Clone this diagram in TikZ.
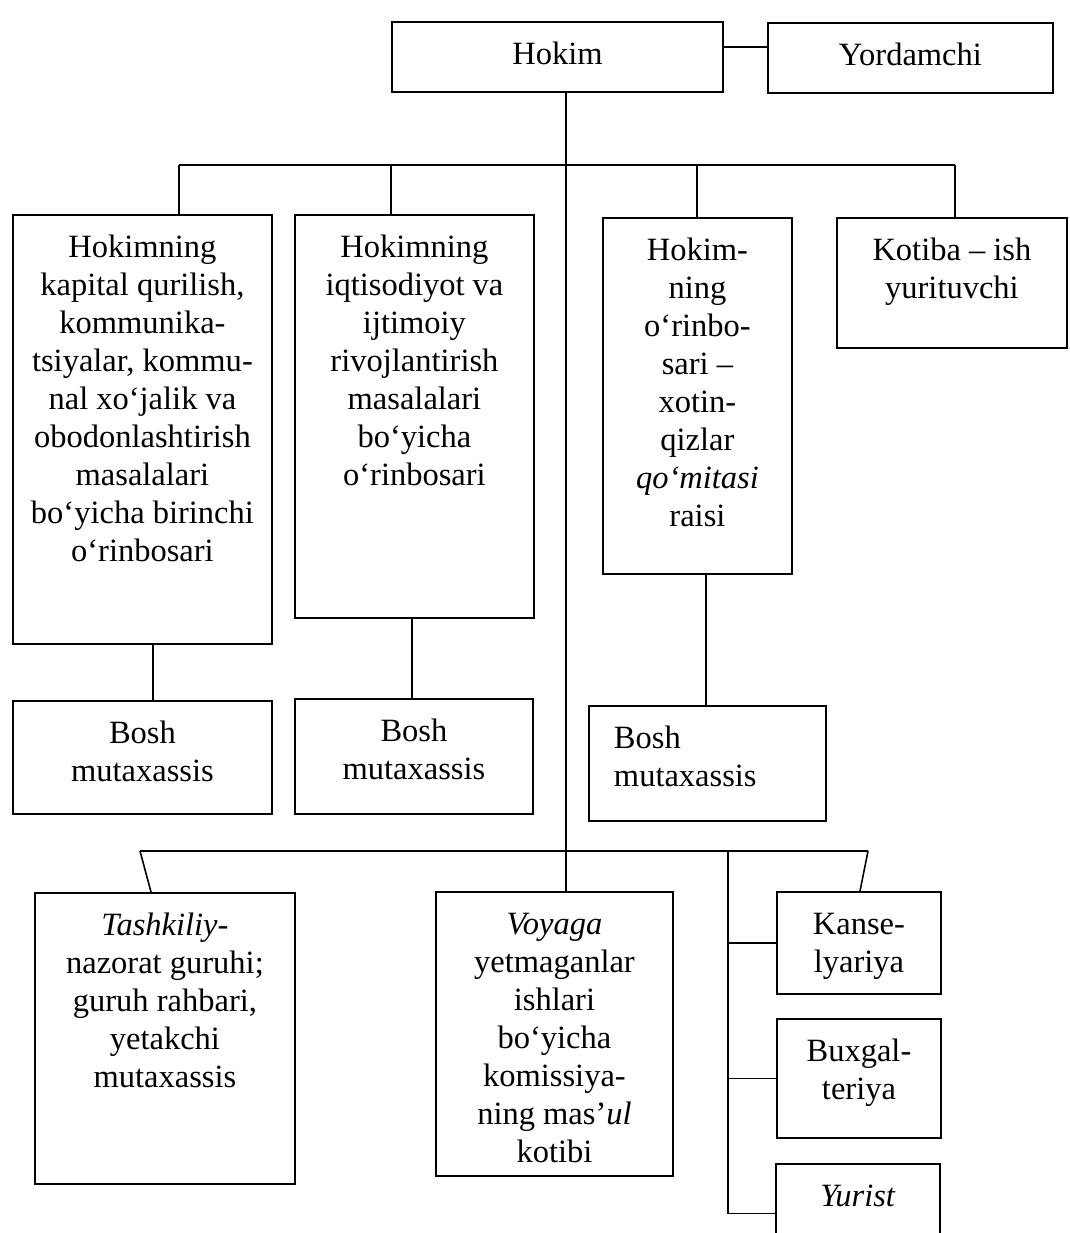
\documentclass[tikz,border=0pt]{standalone}
\usepackage{fontspec}
\setmainfont{Liberation Serif}
\newcommand{\unitbox}[4][\centering]{\parbox[t][#3][t]{#2}{#1\rule{0pt}{0.86cm}#4}}
\tikzset{
  unit/.style={draw, line width=1.1pt, inner sep=0pt, anchor=north west},
  link/.style={line width=0.9pt},
}

\begin{document}
\begin{tikzpicture}[x=0.02cm, y=-0.02cm, font=\fontsize{18.5}{21.6}\selectfont]
\useasboundingbox (0,0) rectangle (1069,1233);
% top row
\node[unit] (hokim) at (391,21) {\unitbox{6.62cm}{1.4cm}{Hokim}};
\node[unit] (yordam) at (767,22) {\unitbox{5.7cm}{1.4cm}{Yordamchi}};
% deputies
\node[unit] (hm1) at (12,214) {\unitbox{5.18cm}{8.58cm}{Hokimning\\kapital qurilish,\\kommunika-\\tsiyalar, kommu-\\nal xo‘jalik va\\obodonlashtirish\\masalalari\\bo‘yicha birinchi\\o‘rinbosari}};
\node[unit] (hm2) at (294,214) {\unitbox{4.78cm}{8.06cm}{Hokimning\\iqtisodiyot va\\ijtimoiy\\rivojlantirish\\masalalari\\bo‘yicha\\o‘rinbosari}};
\node[unit] (hm3) at (602,217) {\unitbox{3.78cm}{7.12cm}{Hokim-\\ning\\o‘rinbo-\\sari –\\xotin-\\qizlar\\\textit{qo‘mitasi}\\raisi}};
\node[unit] (kotiba) at (836,217) {\unitbox{4.6cm}{2.6cm}{Kotiba – ish\\yurituvchi}};
% specialists
\node[unit] (bosh1) at (12,700) {\unitbox{5.18cm}{2.26cm}{Bosh\\mutaxassis}};
\node[unit] (bosh2) at (294,698) {\unitbox{4.76cm}{2.3cm}{Bosh\\mutaxassis}};
\node[unit] (bosh3) at (588,705) {\unitbox[\raggedright\leftskip=0.5cm]{4.74cm}{2.3cm}{Bosh\\mutaxassis}};
% bottom row
\node[unit] (tash) at (34,892) {\unitbox{5.2cm}{5.82cm}{\textit{Tashkiliy}-\\nazorat guruhi;\\guruh rahbari,\\yetakchi\\mutaxassis}};
\node[unit] (voyaga) at (435,891) {\unitbox{4.74cm}{5.68cm}{\textit{Voyaga}\\yetmaganlar\\ishlari\\bo‘yicha\\komissiya-\\ning mas’\textit{ul}\\kotibi}};
\node[unit] (kansel) at (776,891) {\unitbox{3.28cm}{2.04cm}{Kanse-\\lyariya}};
\node[unit] (buxgal) at (776,1018) {\unitbox{3.28cm}{2.38cm}{Buxgal-\\teriya}};
\node[unit] (yurist) at (775,1163) {\unitbox{3.28cm}{1.98cm}{\textit{Yurist}}};

% links
\coordinate (spine) at (566,0);
\draw[link] (hokim.south -| spine) -- (voyaga.north -| spine);
\draw[link] (hokim.east |- 0,47) -- (yordam.west |- 0,47);

\coordinate (d1) at (179,165);
\coordinate (d2) at (391,165);
\coordinate (d3) at (697,165);
\coordinate (d4) at (955,165);
\draw[link] (d1) -- (d4);
\foreach \n/\d in {hm1/d1, hm2/d2, hm3/d3, kotiba/d4}
  \draw[link] (\d) -- (\n.north -| \d);

\foreach \a/\b/\x in {hm1/bosh1/153, hm2/bosh2/412, hm3/bosh3/706}
  \draw[link] (\a.south -| \x,0) -- (\b.north -| \x,0);

\coordinate (e1) at (140,851);
\coordinate (e2) at (728,851);
\coordinate (e3) at (868,851);
\draw[link] (e1) -- (e3);
\draw[link] (e1) -- (tash.north -| 151,0);
\draw[link] (e3) -- (kansel.north -| 860,0);
\draw[link] (e2) |- (yurist.west);
\foreach \n in {kansel, buxgal}
  \draw[link] (\n.west) -- (\n.west -| e2);
\end{tikzpicture}
\end{document}
